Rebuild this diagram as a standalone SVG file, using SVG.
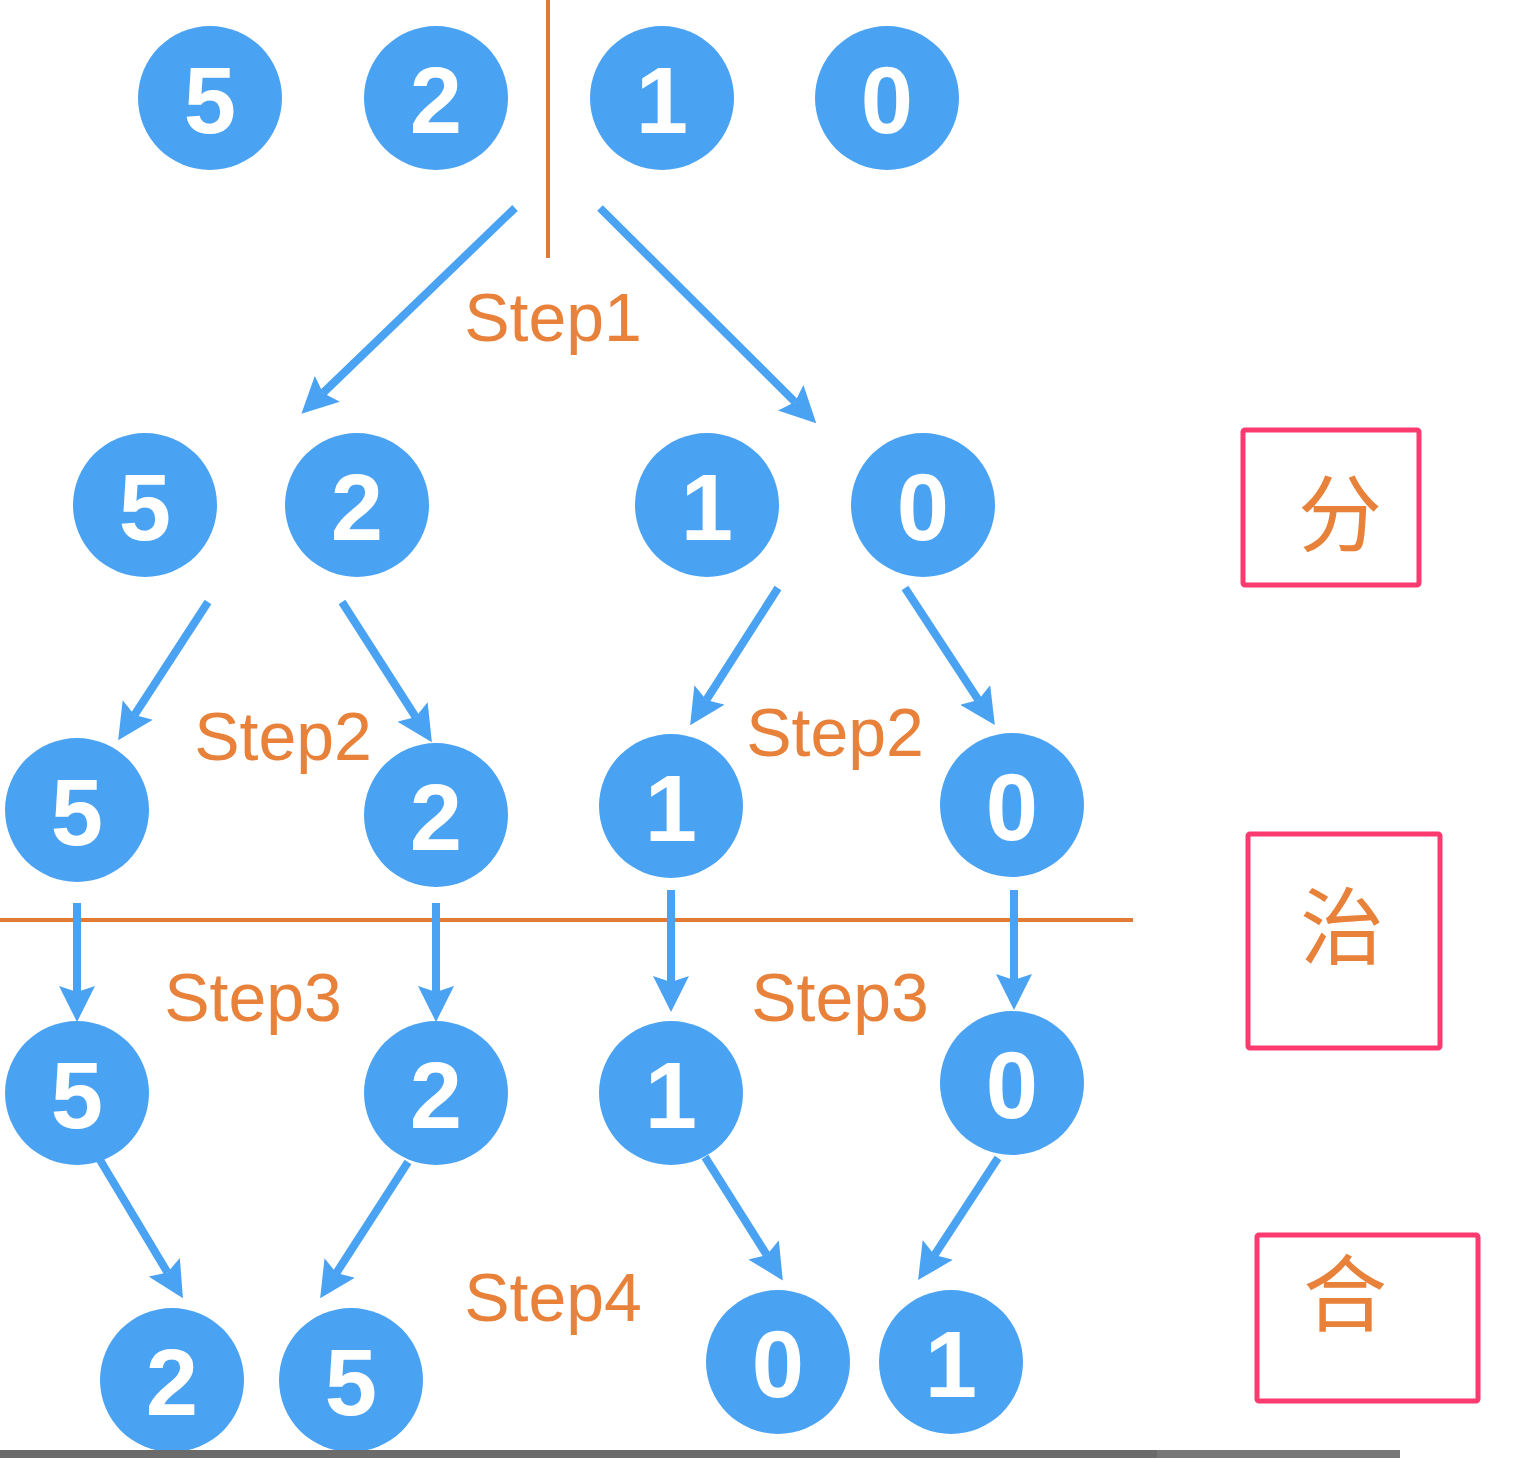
<svg xmlns="http://www.w3.org/2000/svg" width="1522" height="1458" viewBox="0 0 1522 1458">
<style>
.n circle{fill:#4aa2f3}
.n text{fill:#fff;font-family:"Liberation Sans",Arial,sans-serif;font-weight:bold;font-size:94px;text-anchor:middle}
.c line{stroke:#4aa2f3;stroke-width:8}
.lbl{fill:#e8813a;font-family:"Liberation Sans",Arial,sans-serif;font-size:68px;text-anchor:middle}
.box rect{fill:none;stroke:#fb3a70;stroke-width:5}
.box text{fill:#e8813a;font-family:"Noto Sans CJK SC",sans-serif;font-size:84px;text-anchor:middle}
.sep{stroke:#e07a35;stroke-width:4}
</style>
<defs>
<marker id="ah" viewBox="0 0 36 36" refX="6" refY="18" markerWidth="36" markerHeight="36" markerUnits="userSpaceOnUse" orient="auto">
<path d="M0,0 L36,18 L0,36 L6,18 z" fill="#4aa2f3"/>
</marker>
</defs>
<rect width="1522" height="1458" fill="#fff"/>
<line class="sep" x1="548" y1="0" x2="548" y2="258"/>
<line class="sep" x1="0" y1="920" x2="1133" y2="920"/>
<g class="c">
<line x1="515" y1="208" x2="323" y2="393" marker-end="url(#ah)"/>
<line x1="600" y1="208" x2="795" y2="402" marker-end="url(#ah)"/>
<line x1="208" y1="602" x2="134.5" y2="715" marker-end="url(#ah)"/>
<line x1="342" y1="602" x2="415.7" y2="717" marker-end="url(#ah)"/>
<line x1="778" y1="588" x2="706.3" y2="700" marker-end="url(#ah)"/>
<line x1="905" y1="588" x2="978.4" y2="700" marker-end="url(#ah)"/>
<line x1="77" y1="903" x2="77" y2="992" marker-end="url(#ah)"/>
<line x1="436" y1="903" x2="436" y2="992" marker-end="url(#ah)"/>
<line x1="671" y1="890" x2="671" y2="982" marker-end="url(#ah)"/>
<line x1="1014" y1="890" x2="1014" y2="980" marker-end="url(#ah)"/>
<line x1="100" y1="1160" x2="167.5" y2="1272.5" marker-end="url(#ah)"/>
<line x1="408" y1="1162" x2="336.4" y2="1273" marker-end="url(#ah)"/>
<line x1="705" y1="1157" x2="766.8" y2="1255" marker-end="url(#ah)"/>
<line x1="998" y1="1158" x2="934.5" y2="1255" marker-end="url(#ah)"/>
</g>
<g id="r1a" class="n"><circle cx="210" cy="98" r="72"/><text x="210" y="133">5</text></g>
<g id="r1b" class="n"><circle cx="436" cy="98" r="72"/><text x="436" y="133">2</text></g>
<g id="r1c" class="n"><circle cx="662" cy="98" r="72"/><text x="662" y="133">1</text></g>
<g id="r1d" class="n"><circle cx="887" cy="98" r="72"/><text x="887" y="133">0</text></g>
<g id="r2a" class="n"><circle cx="145" cy="505" r="72"/><text x="145" y="540">5</text></g>
<g id="r2b" class="n"><circle cx="357" cy="505" r="72"/><text x="357" y="540">2</text></g>
<g id="r2c" class="n"><circle cx="707" cy="505" r="72"/><text x="707" y="540">1</text></g>
<g id="r2d" class="n"><circle cx="923" cy="505" r="72"/><text x="923" y="540">0</text></g>
<g id="r3a" class="n"><circle cx="77" cy="810" r="72"/><text x="77" y="845">5</text></g>
<g id="r3b" class="n"><circle cx="436" cy="815" r="72"/><text x="436" y="850">2</text></g>
<g id="r3c" class="n"><circle cx="671" cy="806" r="72"/><text x="671" y="841">1</text></g>
<g id="r3d" class="n"><circle cx="1012" cy="805" r="72"/><text x="1012" y="840">0</text></g>
<g id="r4a" class="n"><circle cx="77" cy="1093" r="72"/><text x="77" y="1128">5</text></g>
<g id="r4b" class="n"><circle cx="436" cy="1093" r="72"/><text x="436" y="1128">2</text></g>
<g id="r4c" class="n"><circle cx="671" cy="1093" r="72"/><text x="671" y="1128">1</text></g>
<g id="r4d" class="n"><circle cx="1012" cy="1083" r="72"/><text x="1012" y="1118">0</text></g>
<g id="r5a" class="n"><circle cx="172" cy="1380" r="72"/><text x="172" y="1415">2</text></g>
<g id="r5b" class="n"><circle cx="351" cy="1380" r="72"/><text x="351" y="1415">5</text></g>
<g id="r5c" class="n"><circle cx="778" cy="1362" r="72"/><text x="778" y="1397">0</text></g>
<g id="r5d" class="n"><circle cx="951" cy="1362" r="72"/><text x="951" y="1397">1</text></g>
<g id="labels">
<text class="lbl" x="553" y="341">Step1</text>
<text class="lbl" x="283" y="760">Step2</text>
<text class="lbl" x="835" y="756">Step2</text>
<text class="lbl" x="253" y="1021">Step3</text>
<text class="lbl" x="840" y="1021">Step3</text>
<text class="lbl" x="553" y="1321">Step4</text>
</g>
<g id="box1" class="box"><rect x="1243" y="430" width="176" height="155" rx="2"/><text x="1340" y="545">分</text></g>
<g id="box2" class="box"><rect x="1248" y="834" width="192" height="214" rx="2"/><text x="1342" y="958">治</text></g>
<g id="box3" class="box"><rect x="1257" y="1235" width="221" height="166" rx="2"/><text x="1345" y="1325">合</text></g>
<rect x="0" y="1450" width="1157" height="8" fill="#6b6b6b"/>
<rect x="1157" y="1450" width="243" height="8" fill="#777"/>
</svg>
